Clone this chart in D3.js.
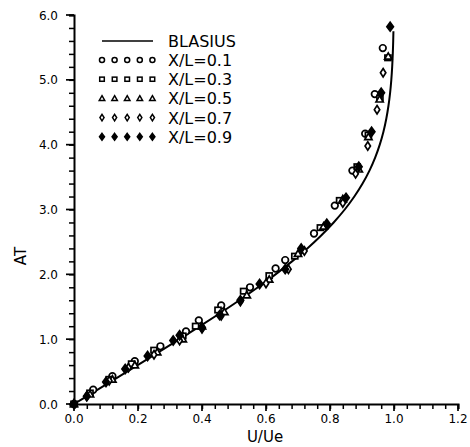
<!DOCTYPE html>
<html><head><meta charset="utf-8">
<script src="https://cdn.jsdelivr.net/npm/d3@7"></script>
<style>
html,body{margin:0;padding:0;background:#fff;}
svg{display:block;}
text{font-family:"DejaVu Sans",sans-serif;}
</style></head>
<body>
<svg id="chart" width="470" height="447"></svg>
<script>
// Blasius profile: AT (eta) vs U/Ue
const blasiusAT = [0.0,0.2,0.4,0.6,0.8,1.0,1.2,1.4,1.6,1.8,2.0,2.2,2.4,2.6,2.8,3.0,3.2,3.4,3.6,3.8,4.0,4.2,4.4,4.6,4.8,5.0,5.2,5.4,5.6,5.75];
const blasiusU  = [0.0,0.0664,0.1328,0.1989,0.2647,0.3298,0.3938,0.4563,0.5168,0.5748,0.6298,0.6813,0.7290,0.7725,0.8115,0.8461,0.8761,0.9018,0.9233,0.9411,0.9555,0.9670,0.9759,0.9827,0.9878,0.9916,0.9943,0.9962,0.9975,0.9982];

const seriesNames = ["X/L=0.1","X/L=0.3","X/L=0.5","X/L=0.7","X/L=0.9"];
const s1U  = [0.0,0.06,0.12,0.19,0.27,0.35,0.39,0.46,0.55,0.63,0.66,0.75,0.815,0.87,0.91,0.94,0.965];
const s1AT = [0.0,0.22,0.43,0.66,0.89,1.12,1.29,1.52,1.80,2.09,2.22,2.63,3.06,3.60,4.17,4.78,5.49];
const s3U  = [0.0,0.05,0.11,0.18,0.25,0.34,0.38,0.45,0.53,0.61,0.69,0.77,0.83,0.885,0.92,0.956,0.981];
const s3AT = [0.0,0.17,0.38,0.62,0.83,1.05,1.20,1.45,1.74,1.98,2.28,2.72,3.14,3.66,4.15,4.72,5.34];
const s5U  = [0.0,0.05,0.12,0.19,0.26,0.34,0.40,0.47,0.54,0.61,0.70,0.78,0.84,0.89,0.92,0.955,0.982];
const s5AT = [0.0,0.15,0.38,0.60,0.80,1.00,1.20,1.42,1.68,1.92,2.32,2.74,3.16,3.62,4.12,4.70,5.36];
const s7U  = [0.0,0.04,0.11,0.17,0.25,0.33,0.40,0.46,0.52,0.60,0.67,0.72,0.79,0.84,0.88,0.918,0.947,0.966];
const s7AT = [0.0,0.12,0.36,0.56,0.76,0.98,1.16,1.36,1.58,1.86,2.08,2.36,2.76,3.10,3.55,3.98,4.54,5.11];
const s9U  = [0.0,0.04,0.10,0.16,0.23,0.31,0.33,0.40,0.455,0.52,0.58,0.66,0.71,0.79,0.85,0.89,0.93,0.96,0.988];
const s9AT = [0.0,0.12,0.34,0.54,0.74,0.98,1.06,1.18,1.37,1.60,1.85,2.08,2.40,2.78,3.18,3.66,4.20,4.80,5.82];

const xTicks = [0.0,0.2,0.4,0.6,0.8,1.0,1.2];
const yTicks = [0.0,1.0,2.0,3.0,4.0,5.0,6.0];

const svg = d3.select("#chart");
const x = d3.scaleLinear().domain([0,1.2]).range([74,458]);
const y = d3.scaleLinear().domain([0,6]).range([404,15]);

// Axes
const xMinor = d3.range(0,1.2001,0.04);
const yMinor = d3.range(0,6.0001,0.2);
const xAxis = d3.axisBottom(x).tickValues(xMinor).tickSize(5).tickFormat("");
const yAxis = d3.axisLeft(y).tickValues(yMinor).tickSize(5).tickFormat("");
const gx = svg.append("g").attr("transform","translate(0,404)").call(xAxis);
const gy = svg.append("g").attr("transform","translate(74,0)").call(yAxis);
[gx,gy].forEach(g=>{
  g.select(".domain").attr("stroke","#000").attr("stroke-width",2);
  g.selectAll(".tick line").attr("stroke","#000").attr("stroke-width",1.5);
});
// major ticks longer
svg.append("g").selectAll("line").data(yTicks).join("line")
  .attr("x1",66).attr("x2",74).attr("y1",d=>y(d)).attr("y2",d=>y(d))
  .attr("stroke","#000").attr("stroke-width",1.7);
svg.append("g").selectAll("line").data(xTicks).join("line")
  .attr("x1",d=>x(d)).attr("x2",d=>x(d)).attr("y1",404).attr("y2",411)
  .attr("stroke","#000").attr("stroke-width",1.7);

svg.append("g").selectAll("text").data(xTicks).join("text")
  .attr("x",d=>x(d)).attr("y",423).attr("text-anchor","middle").attr("fill","#000")
  .attr("font-size",12).text(d=>d.toFixed(1));
svg.append("g").selectAll("text").data(yTicks).join("text")
  .attr("x",58).attr("y",d=>y(d)+4.5).attr("text-anchor","end").attr("fill","#000")
  .attr("font-size",12).text(d=>d.toFixed(1));

svg.append("text").attr("x",265).attr("y",442).attr("text-anchor","middle").attr("fill","#000")
  .attr("font-size",15).text("U/Ue");
svg.append("text").attr("transform","translate(26,256) rotate(-90)").attr("fill","#000")
  .attr("text-anchor","middle").attr("font-size",15).text("AT");

// Blasius line
const line = d3.line().x(d=>x(d[0])).y(d=>y(d[1])).curve(d3.curveMonotoneY);
svg.append("path").datum(blasiusU.map((u,i)=>[u,blasiusAT[i]]))
  .attr("d",line).attr("fill","none").attr("stroke","#000").attr("stroke-width",2);

// Markers
function marker(g, type, cx, cy, s, sw){
  if(type===0){
    g.append("circle").attr("cx",cx).attr("cy",cy).attr("r",s*0.55)
      .attr("fill","#fff").attr("stroke","#000").attr("stroke-width",sw);
  } else if(type===1){
    g.append("rect").attr("x",cx-s*0.5).attr("y",cy-s*0.45).attr("width",s).attr("height",s*0.9)
      .attr("fill","#fff").attr("stroke","#000").attr("stroke-width",sw);
  } else if(type===2){
    g.append("path").attr("d",`M${cx},${cy-s*0.6}L${cx+s*0.6},${cy+s*0.45}L${cx-s*0.6},${cy+s*0.45}Z`)
      .attr("fill","#fff").attr("stroke","#000").attr("stroke-width",sw);
  } else if(type===3){
    g.append("path").attr("d",`M${cx},${cy-s*0.7}L${cx+s*0.45},${cy}L${cx},${cy+s*0.7}L${cx-s*0.45},${cy}Z`)
      .attr("fill","#fff").attr("stroke","#000").attr("stroke-width",sw);
  } else {
    g.append("path").attr("d",`M${cx},${cy-s*0.75}L${cx+s*0.55},${cy}L${cx},${cy+s*0.75}L${cx-s*0.55},${cy}Z`)
      .attr("fill","#000").attr("stroke","#000").attr("stroke-width",sw);
  }
}
const allSeries = [[s1U,s1AT],[s3U,s3AT],[s5U,s5AT],[s7U,s7AT],[s9U,s9AT]];
const gm = svg.append("g");
allSeries.forEach((s,k)=>{
  s[0].forEach((u,i)=>marker(gm,k,x(u),y(s[1][i]),6,1.7));
});

// Legend
const lg = svg.append("g");
lg.append("line").attr("x1",102).attr("x2",153).attr("y1",41).attr("y2",41)
  .attr("stroke","#000").attr("stroke-width",1.7);
lg.append("text").attr("x",168).attr("y",47).attr("font-size",16).attr("fill","#000").text("BLASIUS");
seriesNames.forEach((n,k)=>{
  const ry = 60 + k*19.2;
  for(let j=0;j<5;j++) marker(lg,k,102+j*12.6,ry,4.6,1.5);
  lg.append("text").attr("x",168).attr("y",ry+6).attr("font-size",16).attr("fill","#000").text(n);
});
</script>
</body></html>
